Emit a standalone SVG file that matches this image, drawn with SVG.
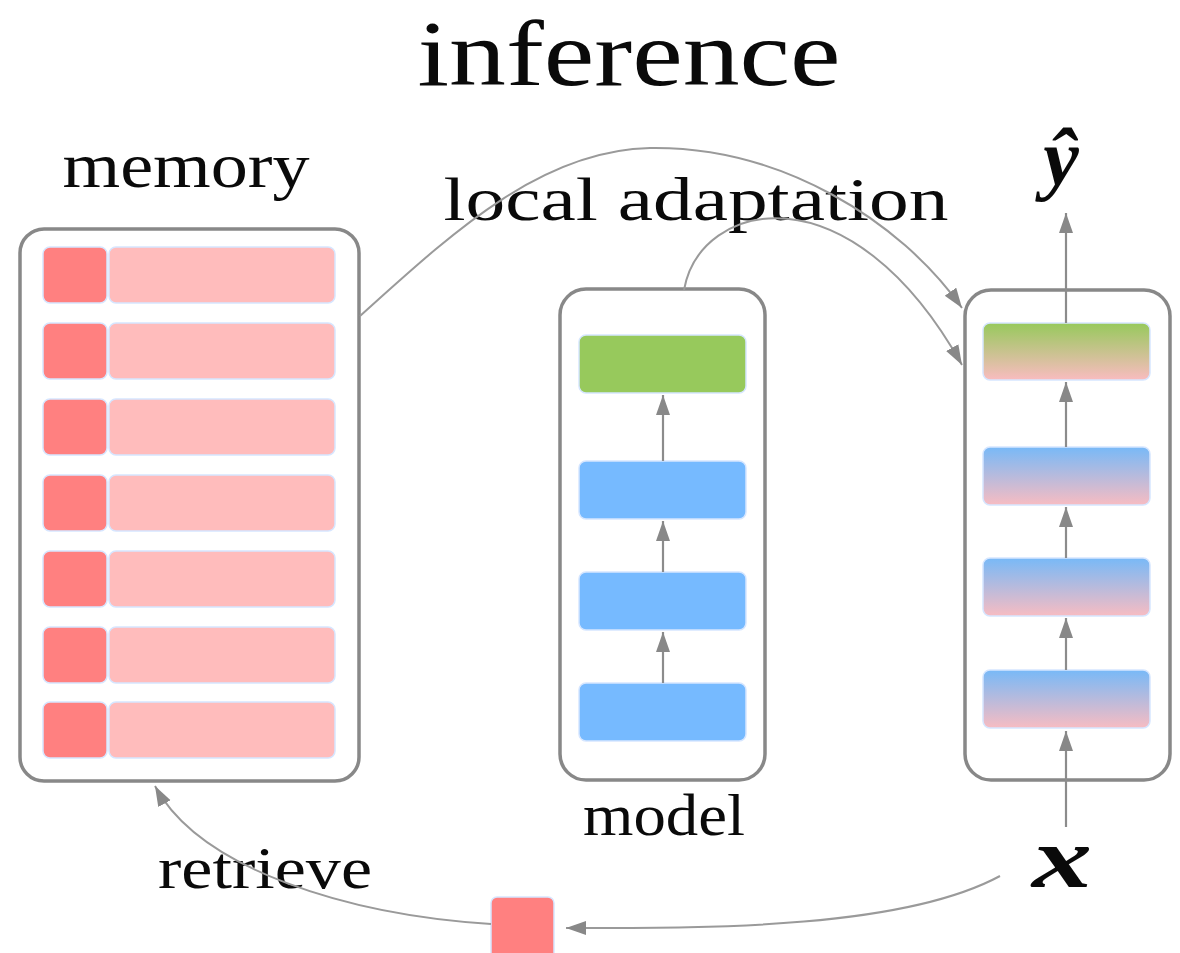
<svg xmlns="http://www.w3.org/2000/svg" width="1180" height="953" viewBox="0 0 1180 953">
  <style>
    .box { fill: #ffffff; stroke: #888888; stroke-width: 3.5; }
    .key { fill: #ff8080; stroke: #d6e6ff; stroke-width: 1.5; }
    .val { fill: #ffbcbc; stroke: #d6e6ff; stroke-width: 1.5; }
    .green { fill: #97c95c; stroke: #d6e6ff; stroke-width: 1.5; }
    .blue { fill: #76baff; stroke: #d6e6ff; stroke-width: 1.5; }
    .adGreen { fill: url(#gradGreen); stroke: #d6e6ff; stroke-width: 1.5; }
    .adBlue { fill: url(#gradBlue); stroke: #d6e6ff; stroke-width: 1.5; }
    .flow { fill: none; stroke: #8c8c8c; stroke-width: 2.2; }
    .curve { fill: none; stroke: #9a9a9a; stroke-width: 2; }
    .lbl { font-family: "Liberation Serif", "DejaVu Serif", serif; fill: #0a0a0a; }
    .math { font-family: "Liberation Serif", "DejaVu Serif", serif; font-style: italic; font-weight: bold; fill: #0a0a0a; }
  </style>
  <defs>
    <marker id="tip" markerUnits="userSpaceOnUse" markerWidth="22" markerHeight="16" refX="20" refY="7" orient="auto">
      <path d="M0,0 L20,7 L0,14 z" fill="#888888"/>
    </marker>
    <linearGradient id="gradGreen" x1="0" y1="0" x2="0" y2="1">
      <stop offset="0" stop-color="#97c95c"/>
      <stop offset="1" stop-color="#f9bcc0"/>
    </linearGradient>
    <linearGradient id="gradBlue" x1="0" y1="0" x2="0" y2="1">
      <stop offset="0" stop-color="#78b9f7"/>
      <stop offset="1" stop-color="#f7bcc2"/>
    </linearGradient>
  </defs>

  <rect width="1180" height="953" fill="#ffffff"/>

  <!-- title -->
  <text class="lbl" x="629" y="85" font-size="94" text-anchor="middle" textLength="423" lengthAdjust="spacingAndGlyphs">inference</text>

  <!-- memory: key/value slots -->
  <g id="memory">
    <rect class="box" x="20" y="229" width="339" height="552" rx="24"/>
    <g id="slot1"><rect class="key" x="43" y="247" width="64" height="56" rx="7"/><rect class="val" x="109" y="247" width="226" height="56" rx="7"/></g>
    <g id="slot2"><rect class="key" x="43" y="323" width="64" height="56" rx="7"/><rect class="val" x="109" y="323" width="226" height="56" rx="7"/></g>
    <g id="slot3"><rect class="key" x="43" y="399" width="64" height="56" rx="7"/><rect class="val" x="109" y="399" width="226" height="56" rx="7"/></g>
    <g id="slot4"><rect class="key" x="43" y="475" width="64" height="56" rx="7"/><rect class="val" x="109" y="475" width="226" height="56" rx="7"/></g>
    <g id="slot5"><rect class="key" x="43" y="551" width="64" height="56" rx="7"/><rect class="val" x="109" y="551" width="226" height="56" rx="7"/></g>
    <g id="slot6"><rect class="key" x="43" y="627" width="64" height="56" rx="7"/><rect class="val" x="109" y="627" width="226" height="56" rx="7"/></g>
    <g id="slot7"><rect class="key" x="43" y="702" width="64" height="56" rx="7"/><rect class="val" x="109" y="702" width="226" height="56" rx="7"/></g>
    <text class="lbl" x="186" y="187" font-size="64" text-anchor="middle" textLength="247" lengthAdjust="spacingAndGlyphs">memory</text>
  </g>

  <!-- base model -->
  <g id="model">
    <rect class="box" x="560" y="289" width="205" height="491" rx="26"/>
    <rect class="green" x="579" y="335" width="167" height="58" rx="7"/>
    <rect class="blue" x="579" y="461" width="167" height="58" rx="7"/>
    <rect class="blue" x="579" y="572" width="167" height="58" rx="7"/>
    <rect class="blue" x="579" y="683" width="167" height="58" rx="7"/>
    <text class="lbl" x="664" y="835" font-size="60" text-anchor="middle" textLength="162" lengthAdjust="spacingAndGlyphs">model</text>
  </g>

  <!-- locally adapted model -->
  <g id="adapted">
    <rect class="box" x="965" y="290" width="205" height="490" rx="26"/>
    <rect class="adGreen" x="983" y="323" width="167" height="57" rx="7"/>
    <rect class="adBlue" x="983" y="447" width="167" height="58" rx="7"/>
    <rect class="adBlue" x="983" y="558" width="167" height="58" rx="7"/>
    <rect class="adBlue" x="983" y="670" width="167" height="58" rx="7"/>
  </g>

  <!-- query key -->
  <g id="query">
    <rect class="key" x="491" y="897" width="63" height="62" rx="6"/>
  </g>

  <!-- labels -->
  <g id="labels">
    <text class="lbl" x="696" y="220" font-size="62" text-anchor="middle" textLength="505" lengthAdjust="spacingAndGlyphs">local adaptation</text>
    <text class="lbl" x="265" y="888" font-size="60" text-anchor="middle" textLength="214" lengthAdjust="spacingAndGlyphs">retrieve</text>
    <text class="math" x="1062" y="887" font-size="86" text-anchor="middle" textLength="60" lengthAdjust="spacingAndGlyphs">x</text>
    <text class="math" x="1061" y="185" font-size="80" text-anchor="middle">ŷ</text>
  </g>

  <!-- connectors -->
  <g id="connectors">
    <line class="flow" x1="663" y1="461" x2="663" y2="395" marker-end="url(#tip)"/>
    <line class="flow" x1="663" y1="572" x2="663" y2="521" marker-end="url(#tip)"/>
    <line class="flow" x1="663" y1="683" x2="663" y2="632" marker-end="url(#tip)"/>

    <line class="flow" x1="1066" y1="323" x2="1066" y2="213" marker-end="url(#tip)"/>
    <line class="flow" x1="1066" y1="447" x2="1066" y2="382" marker-end="url(#tip)"/>
    <line class="flow" x1="1066" y1="558" x2="1066" y2="507" marker-end="url(#tip)"/>
    <line class="flow" x1="1066" y1="670" x2="1066" y2="618" marker-end="url(#tip)"/>
    <line class="flow" x1="1066" y1="827" x2="1066" y2="731" marker-end="url(#tip)"/>

    <path class="curve" d="M 360 316 C 450 235, 540 150, 650 148 C 780 146, 900 220, 962 308" marker-end="url(#tip)"/>
    <path class="curve" d="M 684 290 C 700 200, 850 165, 962 365" marker-end="url(#tip)"/>

    <path class="curve" d="M 1000 876 C 900 930, 700 928, 566 928" marker-end="url(#tip)"/>
    <path class="curve" d="M 491 924 C 350 915, 200 870, 155 786" marker-end="url(#tip)"/>
  </g>
</svg>
